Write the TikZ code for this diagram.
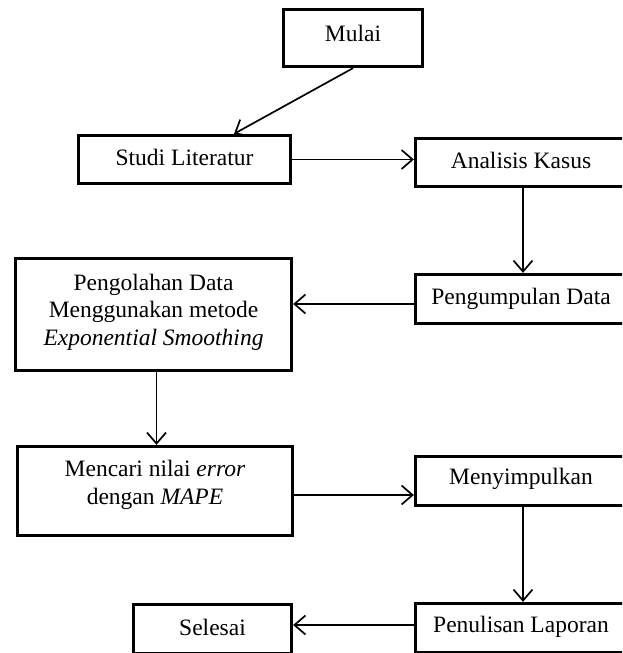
\documentclass[tikz,border=0pt]{standalone}
\usepackage{fontspec}
\setmainfont{Liberation Serif}
\usetikzlibrary{arrows.meta,calc}
\begin{document}
\begin{tikzpicture}[x=1pt,y=-1pt,
  box/.style={draw=black,line width=3.3pt,rectangle,inner sep=0pt,fill=white},
  txt/.style={font=\fontsize{23.5}{27.5}\selectfont,align=center,inner sep=0pt,text=black},
  arr/.style={line width=1.7pt,-{Straight Barb[length=11pt,width=19pt]}}]
\useasboundingbox (0,0) rectangle (622,653);
\begin{scope}
\clip (0,0) rectangle (622,653);
% boxes
\node[box,minimum width=139pt,minimum height=57pt] (mulai) at (353,38) {};
\node[box,minimum width=212pt,minimum height=48pt] (studi) at (184.5,159.5) {};
\node[box,minimum width=211pt,minimum height=48pt] (analisis) at (521,162.5) {};
\node[box,minimum width=276pt,minimum height=112pt] (olah) at (153.5,314.5) {};
\node[box,minimum width=211pt,minimum height=49pt] (kumpul) at (521,299) {};
\node[box,minimum width=275pt,minimum height=89pt] (cari) at (155,491) {};
\node[box,minimum width=211pt,minimum height=49pt] (simpul) at (521,481) {};
\node[box,minimum width=158pt,minimum height=49pt] (selesai) at (212.5,629) {};
\node[box,minimum width=211pt,minimum height=49pt] (tulis) at (521,628) {};
% texts
\node[txt] (tmulai) at (353,33) {Mulai};
\node[txt] (tstudi) at (184.5,157) {Studi Literatur};
\node[txt] (tanalisis) at (521,160) {Analisis Kasus};
\node[txt] (tolah) at (153.5,312) {Pengolahan Data\\Menggunakan metode\\\textit{Exponential Smoothing}};
\node[txt] (tkumpul) at (521,299) {Pengumpulan Data};
\node[txt] (tcari) at (155,485) {Mencari nilai \textit{error}\\dengan \textit{MAPE}};
\node[txt] (tsimpul) at (521,479) {Menyimpulkan};
\node[txt] (tselesai) at (212.5,627) {Selesai};
\node[txt] (ttulis) at (521,627) {Penulisan Laporan};
% connectors
\coordinate (m2s) at ($(studi.north west)!0.73!(studi.north east)$);
\draw[arr] (mulai.south) -- (m2s);
\draw[arr] (studi.east) -- (studi.east -| analisis.west);
\draw[arr] ([xshift=2pt]analisis.south) -- ([xshift=2pt]kumpul.north);
\draw[arr] ([yshift=-5pt]kumpul.west) -- ([yshift=-5pt]kumpul.west -| olah.east);
\draw[arr] ([xshift=3pt]olah.south) -- ([xshift=3pt]olah.south |- cari.north);
\draw[arr] ([yshift=-4pt]cari.east) -- ([yshift=-4pt]cari.east -| simpul.west);
\draw[arr] ([xshift=2pt]simpul.south) -- ([xshift=2pt]tulis.north);
\draw[arr] ([yshift=3pt]tulis.west) -- ([yshift=3pt]tulis.west -| selesai.east);
\end{scope}
\end{tikzpicture}
\end{document}
